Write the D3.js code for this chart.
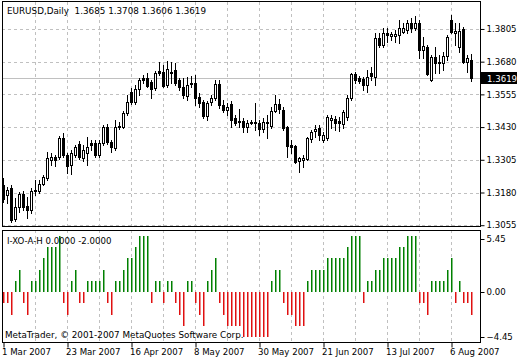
<!DOCTYPE html>
<html><head><meta charset="utf-8">
<script src="https://cdn.jsdelivr.net/npm/d3@7"></script>
<style>
html,body{margin:0;padding:0;background:#fff;}
svg text{font-family:"DejaVu Sans",sans-serif;}
</style>
</head><body>
<svg id="c" width="520" height="360"></svg>
<script>
// ---------- data ----------
const symbolTitle = "EURUSD,Daily  1.3685 1.3708 1.3606 1.3619";
const indicatorTitle = "I-XO-A-H 0.0000 -2.0000";
const copyright = "MetaTrader, \u00A9 2001-2007 MetaQuotes Software Corp.";

const openP = [1.3208,1.3170,1.3196,1.3078,1.3124,1.3173,1.3127,1.3112,1.3185,1.3185,
1.3212,1.3235,1.3304,1.3315,1.3315,1.3388,1.3323,1.3284,1.3323,1.3365,
1.3311,1.3330,1.3369,1.3369,1.3323,1.3369,1.3430,1.3372,1.3349,1.3434,
1.3430,1.3483,1.3564,1.3526,1.3575,1.3617,1.3617,1.3602,1.3579,1.3644,
1.3640,1.3591,1.3637,1.3648,1.3610,1.3583,1.3548,1.3594,1.3598,1.3545,
1.3526,1.3472,1.3526,1.3541,1.3594,1.3514,1.3495,1.3518,1.3464,1.3453,
1.3453,1.3430,1.3445,1.3445,1.3445,1.3422,1.3447,1.3434,1.3491,1.3518,
1.3495,1.3430,1.3361,1.3357,1.3300,1.3304,1.3307,1.3384,1.3415,1.3426,
1.3380,1.3388,1.3457,1.3460,1.3453,1.3441,1.3468,1.3541,1.3633,1.3617,
1.3614,1.3591,1.3637,1.3621,1.3771,1.3744,1.3790,1.3778,1.3778,1.3782,
1.3794,1.3801,1.3828,1.3809,1.3828,1.3725,1.3736,1.3610,1.3698,1.3679,
1.3675,1.3702,1.3840,1.3790,1.3736,1.3805,1.3679,1.3685];

const highP = [1.3235,1.3200,1.3208,1.3158,1.3181,1.3185,1.3162,1.3196,1.3227,1.3227,
1.3246,1.3334,1.3330,1.3323,1.3395,1.3407,1.3330,1.3342,1.3361,1.3376,
1.3361,1.3392,1.3380,1.3380,1.3380,1.3438,1.3441,1.3380,1.3457,1.3449,
1.3491,1.3552,1.3579,1.3591,1.3617,1.3629,1.3637,1.3610,1.3644,1.3679,
1.3667,1.3683,1.3679,1.3675,1.3617,1.3617,1.3621,1.3625,1.3629,1.3560,
1.3533,1.3529,1.3552,1.3610,1.3610,1.3533,1.3522,1.3529,1.3476,1.3499,
1.3464,1.3457,1.3457,1.3522,1.3457,1.3464,1.3476,1.3506,1.3552,1.3537,
1.3506,1.3434,1.3380,1.3361,1.3315,1.3323,1.3392,1.3418,1.3438,1.3438,
1.3411,1.3476,1.3476,1.3472,1.3468,1.3495,1.3552,1.3637,1.3640,1.3625,
1.3621,1.3648,1.3660,1.3790,1.3790,1.3809,1.3809,1.3794,1.3801,1.3840,
1.3828,1.3840,1.3847,1.3855,1.3840,1.3774,1.3744,1.3706,1.3736,1.3706,
1.3717,1.3782,1.3859,1.3828,1.3828,1.3813,1.3706,1.3708];

const lowP = [1.3143,1.3139,1.3066,1.3070,1.3104,1.3112,1.3082,1.3101,1.3170,1.3177,
1.3208,1.3227,1.3284,1.3281,1.3307,1.3315,1.3254,1.3250,1.3315,1.3307,
1.3300,1.3284,1.3342,1.3315,1.3315,1.3361,1.3365,1.3334,1.3342,1.3422,
1.3426,1.3476,1.3518,1.3518,1.3552,1.3598,1.3583,1.3541,1.3572,1.3629,
1.3583,1.3583,1.3598,1.3591,1.3572,1.3541,1.3533,1.3583,1.3514,1.3506,
1.3464,1.3457,1.3514,1.3533,1.3503,1.3487,1.3476,1.3430,1.3438,1.3430,
1.3411,1.3411,1.3441,1.3418,1.3399,1.3411,1.3388,1.3426,1.3487,1.3483,
1.3418,1.3315,1.3330,1.3292,1.3258,1.3277,1.3304,1.3372,1.3392,1.3380,
1.3372,1.3380,1.3426,1.3418,1.3415,1.3426,1.3457,1.3533,1.3598,1.3598,
1.3572,1.3564,1.3610,1.3591,1.3736,1.3736,1.3755,1.3763,1.3755,1.3751,
1.3790,1.3790,1.3794,1.3801,1.3694,1.3694,1.3629,1.3606,1.3637,1.3637,
1.3648,1.3686,1.3790,1.3744,1.3717,1.3675,1.3640,1.3606];

const closeP = [1.3154,1.3189,1.3074,1.3124,1.3173,1.3124,1.3112,1.3185,1.3189,1.3212,
1.3238,1.3311,1.3315,1.3304,1.3388,1.3323,1.3281,1.3330,1.3353,1.3315,
1.3342,1.3353,1.3361,1.3323,1.3369,1.3430,1.3372,1.3353,1.3430,1.3430,
1.3483,1.3526,1.3526,1.3575,1.3610,1.3610,1.3587,1.3575,1.3637,1.3637,
1.3587,1.3652,1.3640,1.3598,1.3583,1.3552,1.3591,1.3598,1.3541,1.3522,
1.3472,1.3522,1.3541,1.3594,1.3514,1.3495,1.3506,1.3457,1.3445,1.3449,
1.3430,1.3445,1.3449,1.3449,1.3422,1.3449,1.3451,1.3491,1.3518,1.3499,
1.3426,1.3357,1.3353,1.3296,1.3311,1.3311,1.3388,1.3411,1.3422,1.3399,
1.3399,1.3468,1.3464,1.3445,1.3445,1.3487,1.3541,1.3633,1.3610,1.3606,
1.3591,1.3621,1.3625,1.3771,1.3744,1.3790,1.3782,1.3786,1.3786,1.3809,
1.3809,1.3828,1.3809,1.3828,1.3725,1.3740,1.3633,1.3698,1.3675,1.3675,
1.3702,1.3774,1.3794,1.3797,1.3797,1.3679,1.3694,1.3619];

const xoValues = [-1,-1,-2,1,2,-1,-2,1,1,2,
3,4,4,4,5,-1,-2,1,2,-1,
-1,1,1,1,1,2,-1,-2,1,1,
2,3,3,4,5,5,5,-1,1,1,
-1,1,1,-1,-2,-3,1,1,-1,-2,
-3,1,2,3,-1,-2,-3,-3,-3,-3,
-4,-4,-4,-4,-4,-4,-4,1,2,2,
-1,-2,-2,-3,-3,-3,1,2,2,2,
2,3,3,3,3,3,4,5,5,5,
-1,1,1,2,2,3,3,3,3,4,
4,5,5,5,-1,-1,-2,1,1,1,
1,2,3,-1,1,-1,-1,-2];

const priceTicks = [1.3805,1.3680,1.3555,1.3430,1.3305,1.3180,1.3055];
const lastPrice = 1.3619;
const xoTicks = [5.45, 0.00, -4.45];
const firstDay = new Date(2007, 2, 1), endDay = new Date(2007, 7, 14);

// ---------- layout ----------
const svg = d3.select("#c");
const mainTop = 2, mainBot = 226, indTop = 230, indBot = 342, left = 2, right = 481;

const days = d3.timeDay.range(firstDay, endDay).filter(d => d.getDay() !== 0 && d.getDay() !== 6);
const fmt = d3.timeFormat("%-d %b %Y");
const labels = days.map(fmt);
const x = d3.scalePoint().domain(labels).range([3, 3 + 4 * (labels.length - 1)]);
const y = d3.scaleLinear().domain([1.3052, 1.3908]).range([mainBot, mainTop]);
const yi = d3.scaleLinear().domain([-4.45, 5.45]).range([indBot, indTop + 1]);

const grid = svg.append("g").attr("stroke", "#c0c0c0").attr("stroke-dasharray", "3,3")
  .attr("shape-rendering", "crispEdges");
priceTicks.forEach(p => {
  const yy = Math.round(y(p)) + 0.5;
  grid.append("line").attr("x1", left).attr("x2", right).attr("y1", yy).attr("y2", yy);
});
labels.forEach((l, i) => {
  if (i > 0 && i % 8 === 0) {
    const xx = Math.round(x(l)) + 0.5;
    grid.append("line").attr("x1", xx).attr("x2", xx).attr("y1", mainTop).attr("y2", mainBot);
    grid.append("line").attr("x1", xx).attr("x2", xx).attr("y1", indTop).attr("y2", indBot);
  }
});

// last price line
const lpY = Math.round(y(lastPrice)) + 0.5;
svg.append("line").attr("x1", left).attr("x2", right).attr("y1", lpY).attr("y2", lpY)
  .attr("stroke", "#c0c0c0").attr("shape-rendering", "crispEdges");

// candles
const candles = svg.append("g").attr("shape-rendering", "crispEdges");
labels.forEach((l, i) => {
  const cx = Math.round(x(l));
  const o = openP[i], c = closeP[i];
  candles.append("line").attr("x1", cx + 0.5).attr("x2", cx + 0.5)
    .attr("y1", Math.round(y(highP[i]))).attr("y2", Math.round(y(lowP[i])) + 1)
    .attr("stroke", "#000");
  const t = Math.round(y(Math.max(o, c))), b = Math.round(y(Math.min(o, c)));
  if (b - t < 1) {
    candles.append("line").attr("x1", cx - 1).attr("x2", cx + 2).attr("y1", t + 0.5).attr("y2", t + 0.5).attr("stroke", "#000");
  } else {
    candles.append("rect").attr("x", cx - 0.5).attr("y", t + 0.5).attr("width", 2).attr("height", b - t)
      .attr("fill", c >= o ? "#fff" : "#000").attr("stroke", "#000");
  }
});

// indicator histogram
const bars = svg.append("g");
const y0 = Math.round(yi(0));
labels.forEach((l, i) => {
  const cx = Math.round(x(l));
  const v = xoValues[i];
  const yv = Math.round(yi(v));
  bars.append("rect").attr("x", cx).attr("width", 1.5)
    .attr("y", Math.min(y0, yv)).attr("height", Math.abs(yv - y0))
    .attr("fill", v >= 0 ? "#008000" : "#e01010");
});

// borders
svg.append("rect").attr("x", left + 0.5).attr("y", mainTop - 0.5).attr("width", right - left - 1).attr("height", mainBot - mainTop + 1)
  .attr("fill", "none").attr("stroke", "#000").attr("shape-rendering", "crispEdges");
svg.append("rect").attr("x", left + 0.5).attr("y", indTop + 0.5).attr("width", right - left - 1).attr("height", indBot - indTop)
  .attr("fill", "none").attr("stroke", "#000").attr("shape-rendering", "crispEdges");

// price axis
const pAxis = svg.append("g").attr("transform", `translate(${right - 0.5},0)`)
  .call(d3.axisRight(y).tickValues(priceTicks).tickFormat(d3.format(".4f")).tickSize(4).tickPadding(2));
pAxis.select(".domain").remove();
pAxis.selectAll("text").attr("font-size", 8.6).attr("font-family", "DejaVu Sans").attr("fill", "#000");

// last price box
svg.append("rect").attr("x", right).attr("y", Math.round(y(lastPrice)) - 6).attr("width", 36).attr("height", 12).attr("fill", "#000");
svg.append("text").attr("x", right + 6).attr("y", Math.round(y(lastPrice)) + 3.5)
  .attr("font-size", 8.6).attr("fill", "#fff").text(d3.format(".4f")(lastPrice));

// indicator axis
const iAxis = svg.append("g").attr("transform", `translate(${right - 0.5},0)`)
  .call(d3.axisRight(yi).tickValues(xoTicks).tickFormat(d3.format(".2f")).tickSize(4).tickPadding(2));
iAxis.select(".domain").remove();
iAxis.selectAll(".tick").attr("transform", d => {
  const pos = d === 5.45 ? 239 : d === -4.45 ? 337 : Math.round(yi(d));
  return `translate(0,${pos + 0.5})`;
});
iAxis.selectAll("text").attr("font-size", 8.6).attr("font-family", "DejaVu Sans").attr("fill", "#000");

// date axis
const dAxis = svg.append("g").attr("transform", `translate(0.5,${indBot + 0.5})`)
  .call(d3.axisBottom(x).tickValues(labels.filter((l, i) => i % 16 === 0)).tickSize(5).tickPadding(1));
dAxis.select(".domain").remove();
dAxis.selectAll("text").attr("font-size", 8.6).attr("font-family", "DejaVu Sans").attr("fill", "#000")
  .attr("text-anchor", "start").attr("x", -2);

// texts
svg.append("text").attr("x", 7).attr("y", 14).attr("font-size", 8.8).style("white-space", "pre").text(symbolTitle);
svg.append("text").attr("x", 7).attr("y", 244).attr("font-size", 8.6).text(indicatorTitle);
svg.append("text").attr("x", 5).attr("y", 338).attr("font-size", 8.8).text(copyright);
</script>
</body></html>
